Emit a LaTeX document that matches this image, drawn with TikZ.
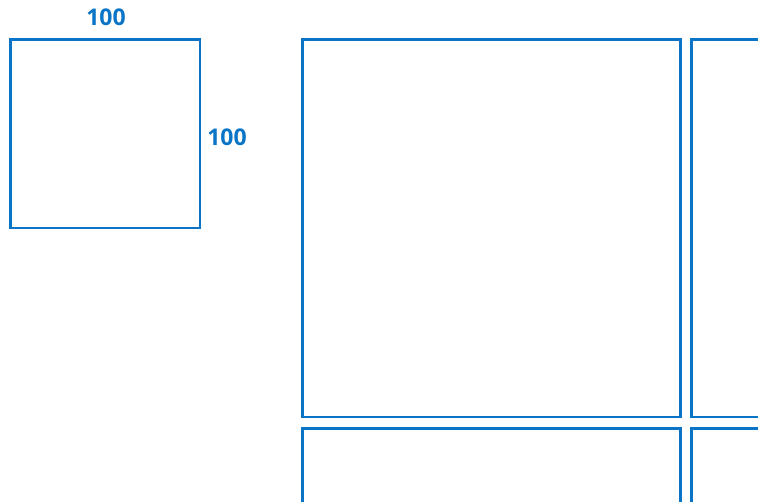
\documentclass[tikz,border=0pt]{standalone}
\usepackage{fontspec}
\setmainfont{Open Sans}
\definecolor{lineblue}{HTML}{0A74C6}
\begin{document}
\begin{tikzpicture}[x=1pt,y=-1pt,
  box/.style={draw=lineblue,line width=2.5pt},
  dim/.style={text=lineblue,font=\bfseries\fontsize{23}{27}\selectfont,inner sep=0pt}]
\useasboundingbox (0,0) rectangle (758,501);
\begin{scope}
\clip (0,0) rectangle (758,501);
\draw[box] (10.5,39.5) rectangle (200,228);
\draw[box] (302.5,39.5) rectangle (680.5,417);
\draw[box] (691.5,39.5) rectangle (1070,417);
\draw[box] (302.5,428.5) rectangle (680.5,807);
\draw[box] (691.5,428.5) rectangle (1070,807);
\end{scope}
\node[dim] (top) at (106,17) {100};
\node[dim] (right) at (227,137) {100};
\end{tikzpicture}
\end{document}
